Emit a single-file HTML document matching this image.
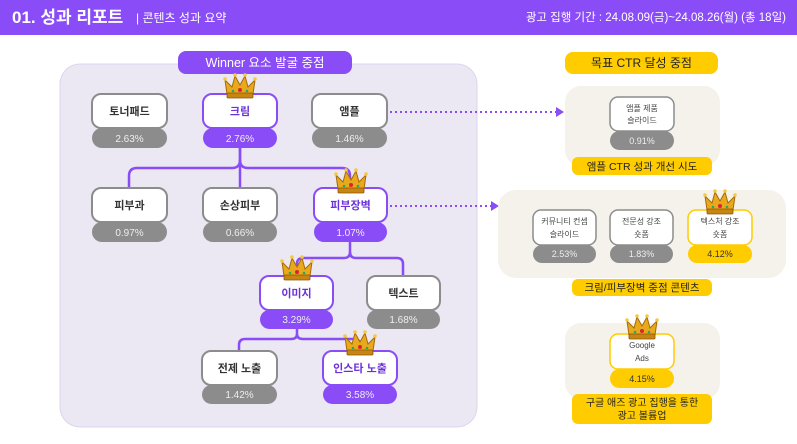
<!DOCTYPE html>
<html><head><meta charset="utf-8"><style>
html,body{margin:0;padding:0;background:#fff}
svg{display:block}
text{font-family:"Liberation Sans","Noto Sans CJK KR",sans-serif}
</style></head><body>
<svg width="797" height="444" viewBox="0 0 797 444" xmlns="http://www.w3.org/2000/svg">
<defs>
<g id="crown">
<path d="M-13,8 L-15,-6 L-8,1 L-5,-10 L0,-1 L5,-10 L8,1 L15,-6 L13,8 Z" fill="#e8a91c" stroke="#a86a0a" stroke-width="1"/>
<rect x="-13" y="7" width="26" height="5" rx="1" fill="#c98512" stroke="#8a5506" stroke-width="0.8"/>
<circle cx="-15" cy="-7" r="1.8" fill="#f5c842"/><circle cx="15" cy="-7" r="1.8" fill="#f5c842"/>
<circle cx="-5" cy="-11" r="1.8" fill="#f5c842"/><circle cx="5" cy="-11" r="1.8" fill="#f5c842"/>
<circle cx="0" cy="4" r="2" fill="#d23"/><circle cx="-7" cy="5" r="1.3" fill="#2a6"/><circle cx="7" cy="5" r="1.3" fill="#2a6"/>
</g>
</defs>
<!-- header -->
<rect x="0" y="0" width="797" height="35" fill="#8a4cf6"/>
<text x="12" y="23" font-size="17" font-weight="bold" fill="#fff">01. 성과 리포트</text>
<text x="136" y="22" font-size="12" fill="#fff">|  콘텐츠 성과 요약</text>
<text x="786" y="21" font-size="11.5" fill="#fff" text-anchor="end">광고 집행 기간 : 24.08.09(금)~24.08.26(월) (총 18일)</text>

<!-- left panel -->
<rect x="60" y="64" width="417" height="363" rx="20" fill="#ebe7f3" stroke="#dcd6ec"/>
<rect x="178" y="51" width="174" height="23" rx="8" fill="#8a4cf6"/>
<text x="265" y="67" font-size="12.5" fill="#fff" text-anchor="middle">Winner 요소 발굴 중점</text>

<!-- connectors -->
<g fill="none" stroke="#8a4cf6" stroke-width="2.5">
<path d="M240,148 V160 Q240,168 232,168 H137 Q129,168 129,176 V188"/>
<path d="M240,160 Q240,168 248,168 H342 Q350,168 350,176 V188"/>
<path d="M240,148 V188"/>
<path d="M350,242 V252 Q350,258 344,258 H303 Q297,258 297,264 V276"/>
<path d="M350,252 Q350,258 356,258 H397 Q403,258 403,264 V276"/>
<path d="M297,328 V334 Q297,339 291,339 H245 Q239,339 239,345 V351"/>
<path d="M297,334 Q297,339 303,339 H354 Q360,339 360,345 V351"/>
</g>

<!-- nodes -->
<g font-size="11" text-anchor="middle">
<!-- row1 -->
<rect x="92" y="128" width="75" height="20" rx="10" fill="#8c8c8c"/><text x="129.5" y="142" fill="#eee" font-size="10">2.63%</text>
<rect x="92" y="94" width="75" height="34" rx="9" fill="#fff" stroke="#8c8c8c" stroke-width="2"/><text x="129.5" y="115" fill="#333" font-weight="bold">토너패드</text>

<rect x="203" y="128" width="74" height="20" rx="10" fill="#8a4cf6"/><text x="240" y="142" fill="#eee" font-size="10">2.76%</text>
<rect x="203" y="94" width="74" height="34" rx="9" fill="#fff" stroke="#8a4cf6" stroke-width="2"/><text x="240" y="115" fill="#6a32d8" font-weight="bold">크림</text>

<rect x="312" y="128" width="75" height="20" rx="10" fill="#8c8c8c"/><text x="349.5" y="142" fill="#eee" font-size="10">1.46%</text>
<rect x="312" y="94" width="75" height="34" rx="9" fill="#fff" stroke="#8c8c8c" stroke-width="2"/><text x="349.5" y="115" fill="#333" font-weight="bold">앰플</text>
<!-- row2 -->
<rect x="92" y="222" width="75" height="20" rx="10" fill="#8c8c8c"/><text x="129.5" y="236" fill="#eee" font-size="10">0.97%</text>
<rect x="92" y="188" width="75" height="34" rx="9" fill="#fff" stroke="#8c8c8c" stroke-width="2"/><text x="129.5" y="209" fill="#333" font-weight="bold">피부과</text>

<rect x="203" y="222" width="74" height="20" rx="10" fill="#8c8c8c"/><text x="240" y="236" fill="#eee" font-size="10">0.66%</text>
<rect x="203" y="188" width="74" height="34" rx="9" fill="#fff" stroke="#8c8c8c" stroke-width="2"/><text x="240" y="209" fill="#333" font-weight="bold">손상피부</text>

<rect x="314" y="222" width="73" height="20" rx="10" fill="#8a4cf6"/><text x="350.5" y="236" fill="#eee" font-size="10">1.07%</text>
<rect x="314" y="188" width="73" height="34" rx="9" fill="#fff" stroke="#8a4cf6" stroke-width="2"/><text x="350.5" y="209" fill="#6a32d8" font-weight="bold">피부장벽</text>
<!-- row3 -->
<rect x="260" y="310" width="73" height="19" rx="9.5" fill="#8a4cf6"/><text x="296.5" y="323" fill="#eee" font-size="10">3.29%</text>
<rect x="260" y="276" width="73" height="34" rx="9" fill="#fff" stroke="#8a4cf6" stroke-width="2"/><text x="296.5" y="297" fill="#6a32d8" font-weight="bold">이미지</text>

<rect x="367" y="310" width="73" height="19" rx="9.5" fill="#8c8c8c"/><text x="403.5" y="323" fill="#eee" font-size="10">1.68%</text>
<rect x="367" y="276" width="73" height="34" rx="9" fill="#fff" stroke="#8c8c8c" stroke-width="2"/><text x="403.5" y="297" fill="#333" font-weight="bold">텍스트</text>
<!-- row4 -->
<rect x="202" y="385" width="75" height="19" rx="9.5" fill="#8c8c8c"/><text x="239.5" y="398" fill="#eee" font-size="10">1.42%</text>
<rect x="202" y="351" width="75" height="34" rx="9" fill="#fff" stroke="#8c8c8c" stroke-width="2"/><text x="239.5" y="372" fill="#333" font-weight="bold">전제 노출</text>

<rect x="323" y="385" width="74" height="19" rx="9.5" fill="#8a4cf6"/><text x="360" y="398" fill="#eee" font-size="10">3.58%</text>
<rect x="323" y="351" width="74" height="34" rx="9" fill="#fff" stroke="#8a4cf6" stroke-width="2"/><text x="360" y="372" fill="#6a32d8" font-weight="bold">인스타 노출</text>
</g>
<use href="#crown" x="240" y="86"/>
<use href="#crown" x="351" y="181"/>
<use href="#crown" x="297" y="268"/>
<use href="#crown" x="360" y="343"/>

<!-- right -->
<rect x="565" y="52" width="153" height="22" rx="8" fill="#ffcc00"/>
<text x="641.5" y="67" font-size="12" fill="#222" text-anchor="middle">목표 CTR 달성 중점</text>

<!-- arrows -->
<g stroke="#8a4cf6" stroke-width="2" stroke-dasharray="2,3" fill="none">
<path d="M390,112 H557"/><path d="M390,206 H492"/>
</g>
<path d="M556,107 L564,112 L556,117 Z" fill="#8a4cf6"/>
<path d="M491,201 L499,206 L491,211 Z" fill="#8a4cf6"/>

<!-- panel1 -->
<rect x="565" y="86" width="155" height="80" rx="16" fill="#f4f2ea"/>
<g text-anchor="middle" font-size="8">
<rect x="610" y="131" width="64" height="19" rx="9.5" fill="#8c8c8c"/><text x="642" y="144" fill="#eee" font-size="9">0.91%</text>
<rect x="610" y="97" width="64" height="34" rx="8" fill="#fff" stroke="#8c8c8c" stroke-width="1.5"/>
<text x="642" y="111" fill="#444">앰플 제품</text><text x="642" y="123" fill="#444">슬라이드</text>
</g>
<rect x="572" y="157" width="140" height="18" rx="6" fill="#ffcc00"/>
<text x="642" y="170" font-size="10.5" fill="#222" text-anchor="middle">앰플 CTR 성과 개선 시도</text>

<!-- panel2 -->
<rect x="498" y="190" width="288" height="88" rx="18" fill="#f4f2ea"/>
<g text-anchor="middle" font-size="8">
<rect x="533" y="245" width="63" height="18" rx="9" fill="#8c8c8c"/><text x="564.5" y="257" fill="#eee" font-size="9">2.53%</text>
<rect x="533" y="210" width="63" height="35" rx="8" fill="#fff" stroke="#8c8c8c" stroke-width="1.5"/>
<text x="564.5" y="224" fill="#444">커뮤니티 컨셉</text><text x="564.5" y="237" fill="#444">슬라이드</text>
<rect x="610" y="245" width="63" height="18" rx="9" fill="#8c8c8c"/><text x="641.5" y="257" fill="#eee" font-size="9">1.83%</text>
<rect x="610" y="210" width="63" height="35" rx="8" fill="#fff" stroke="#8c8c8c" stroke-width="1.5"/>
<text x="641.5" y="224" fill="#444">전문성 강조</text><text x="641.5" y="237" fill="#444">숏폼</text>
<rect x="688" y="245" width="64" height="18" rx="9" fill="#ffcc00"/><text x="720" y="257" fill="#333" font-size="9">4.12%</text>
<rect x="688" y="210" width="64" height="35" rx="8" fill="#fff" stroke="#ffcc00" stroke-width="1.5"/>
<text x="720" y="224" fill="#444">텍스처 강조</text><text x="720" y="237" fill="#444">숏폼</text>
</g>
<use href="#crown" x="720" y="202" transform="translate(0,0)"/>
<rect x="572" y="279" width="140" height="17" rx="6" fill="#ffcc00"/>
<text x="642" y="291" font-size="10.5" fill="#222" text-anchor="middle">크림/피부장벽 중점 콘텐츠</text>

<!-- panel3 -->
<rect x="565" y="323" width="155" height="76" rx="16" fill="#f4f2ea"/>
<g text-anchor="middle" font-size="8">
<rect x="610" y="369" width="64" height="19" rx="9.5" fill="#ffcc00"/><text x="642" y="382" fill="#333" font-size="9">4.15%</text>
<rect x="610" y="334" width="64" height="35" rx="8" fill="#fff" stroke="#ffcc00" stroke-width="1.5"/>
<text x="642" y="348" fill="#444">Google</text><text x="642" y="361" fill="#444">Ads</text>
</g>
<use href="#crown" x="642" y="327"/>
<rect x="572" y="394" width="140" height="30" rx="6" fill="#ffcc00"/>
<text x="642" y="406" font-size="10" fill="#222" text-anchor="middle">구글 애즈 광고 집행을 통한</text>
<text x="642" y="419" font-size="10" fill="#222" text-anchor="middle">광고 볼륨업</text>
</svg>
</body></html>
